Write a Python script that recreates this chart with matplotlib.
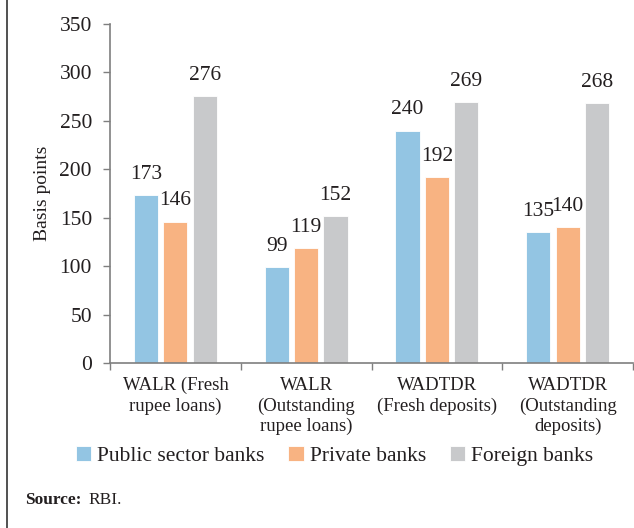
import matplotlib
matplotlib.use("Agg")
import matplotlib.pyplot as plt
import numpy as np

categories = ["WALR (Fresh\nrupee loans)", "WALR\n(Outstanding\nrupee loans)",
              "WADTDR\n(Fresh deposits)", "WADTDR\n(Outstanding\ndeposits)"]
series_names = ["Public sector banks", "Private banks", "Foreign banks"]
public_sector = [173, 99, 240, 135]
private_banks = [146, 119, 192, 140]
foreign_banks = [276, 152, 269, 268]
y_ticks = [0, 50, 100, 150, 200, 250, 300, 350]

colors = ["#93C5E3", "#F8B382", "#C8C9CB"]
text_color = "#231F20"
plt.rcParams["font.family"] = ["Liberation Serif", "DejaVu Serif"]

fig = plt.figure(figsize=(6.34, 5.28), dpi=100)
ax = fig.add_axes([0.1735, 0.3125, 0.825, 0.642])

x = np.arange(len(categories))
offsets = [-0.225, 0.0, 0.225]
width = 0.185
for vals, off, col, name in zip([public_sector, private_banks, foreign_banks],
                                offsets, colors, series_names):
    bars = ax.bar(x + off, vals, width=width, color=col, label=name,
                  edgecolor="white", linewidth=0.6)
    for b, v in zip(bars, vals):
        ax.annotate(f"{v}", (b.get_x() + b.get_width() / 2, v),
                    xytext=(0, 8), textcoords="offset points",
                    ha="center", va="bottom", fontsize=15.5, color=text_color)

ax.set_xlim(-0.5, len(categories) - 0.5)
ax.set_ylim(0, 350)
ax.set_yticks(y_ticks)
ax.set_yticklabels([str(t) for t in y_ticks], fontsize=15.5, color=text_color)
ax.set_xticks(np.arange(-0.5, len(categories), 1.0))
ax.set_xticklabels([])
ax.set_xticks(x, minor=True)
ax.set_xticklabels(categories, minor=True, fontsize=13.5, color=text_color,
                   linespacing=1.25)
ax.tick_params(axis="x", which="minor", length=0, pad=10)
ax.tick_params(axis="x", which="major", length=5, color="#7F7F7F", width=1)
ax.tick_params(axis="y", length=5, color="#7F7F7F", width=1, pad=8)

for s in ["top", "right"]:
    ax.spines[s].set_visible(False)
for s in ["left", "bottom"]:
    ax.spines[s].set_color("#7F7F7F")
    ax.spines[s].set_linewidth(1.2)

ax.set_ylabel("Basis points", fontsize=14, color=text_color, labelpad=6)

handles, labels = ax.get_legend_handles_labels()
leg = fig.legend(handles, labels, loc="center", bbox_to_anchor=(0.528, 0.137),
                 ncol=3, frameon=False, fontsize=15.5, handlelength=0.7,
                 handleheight=0.7, handletextpad=0.3, columnspacing=1.1)
for t in leg.get_texts():
    t.set_color(text_color)

fig.text(0.04, 0.053, "Source:", fontsize=12.5, fontweight="bold",
         color=text_color, va="center")
fig.text(0.14, 0.053, "RBI.", fontsize=12.5, color=text_color, va="center")

fig.add_artist(plt.Line2D([0.011, 0.011], [0, 1], transform=fig.transFigure,
                          color="#333333", linewidth=1.2))

fig.savefig("out.png", dpi=100)
